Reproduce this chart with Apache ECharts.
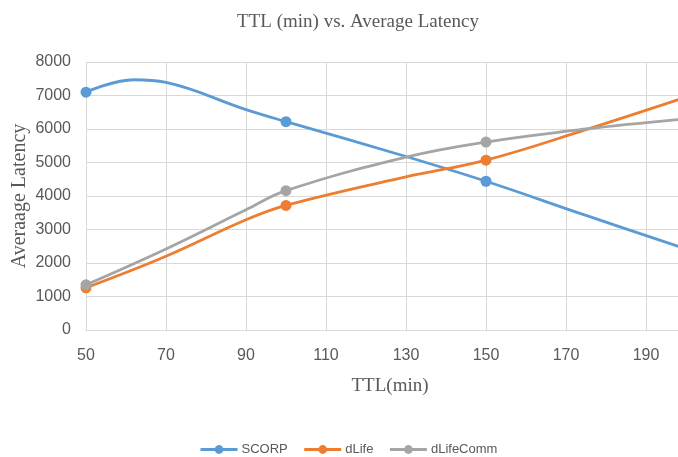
<!DOCTYPE html>
<html><head><meta charset="utf-8">
<script src="https://cdn.jsdelivr.net/npm/echarts@6/dist/echarts.min.js"></script>
<style>html,body{margin:0;padding:0;background:#fff}#c{width:678px;height:457px}</style>
</head><body><div id="c"></div>
<script>
// Marked data points (x = TTL in min)
const markedX = [50, 100, 150];
// Values; extra points (no marker)
const scorpPts = [[50,7100],[62,7470],[70,7390],[90,6580],[100,6220],[130,5180],[150,4440],[175,3420],[200,2420]];
const dlifePts = [[50,1260],[70,2200],[90,3290],[100,3720],[130,4570],[150,5070],[175,5980],[200,6950]];
const dlifeCommPts = [[50,1350],[70,2420],[90,3590],[100,4160],[130,5160],[150,5610],[175,6000],[200,6300]];
const seriesNames = ['SCORP','dLife','dLifeComm'];
const colors = ['#5B9BD5','#ED7D31','#A5A5A5'];

function toData(pts){
  return pts.map(p => markedX.includes(p[0]) ? {value:p} : {value:p, symbol:'none'});
}
const sans = '"Liberation Sans Narrow","Arial Narrow","Liberation Sans",sans-serif';
const serif = '"Liberation Serif","Times New Roman",serif';
const chart = echarts.init(document.getElementById('c'));
chart.setOption({
  animation:false,
  color: colors,
  title:{text:'TTL (min) vs. Average Latency', left:353, textAlign:'center', top:8,
    textStyle:{fontFamily:serif, fontSize:19, fontWeight:'normal', color:'#595959'}},
  grid:{left:86, right:0, top:62, bottom:127, containLabel:false, outerBoundsMode:'none'},
  xAxis:{type:'value', min:50, max:198, interval:20,
    name:'TTL(min)', nameLocation:'middle', nameGap:47, nameMoveOverlap:false,
    nameTextStyle:{fontFamily:serif, fontSize:19, color:'#595959', padding:[0,0,0,16]},
    axisLine:{show:true, lineStyle:{color:'#D9D9D9'}}, axisTick:{show:false},
    axisLabel:{fontFamily:sans, fontSize:16, color:'#595959', margin:18, showMaxLabel:false},
    splitLine:{show:true, lineStyle:{color:'#D9D9D9'}}},
  yAxis:{type:'value', min:0, max:8000, interval:1000,
    name:'Averaage Latency', nameLocation:'middle', nameGap:56, nameMoveOverlap:false,
    nameTextStyle:{fontFamily:serif, fontSize:20, color:'#595959'},
    axisLine:{show:false}, axisTick:{show:false},
    axisLabel:{fontFamily:sans, fontSize:16, color:'#595959', margin:15, formatter:v=>String(v)},
    splitLine:{show:true, lineStyle:{color:'#D9D9D9'}}},
  legend:{top:438, left:194, itemWidth:37, itemHeight:11, itemGap:15,
    lineStyle:{width:3},
    textStyle:{fontFamily:sans, fontSize:13, color:'#595959', padding:[0,0,0,-1]},
    data:seriesNames},
  series:[scorpPts, dlifePts, dlifeCommPts].map((pts,i)=>({
    name:seriesNames[i], type:'line', smooth:0.4, clip:true,
    symbol:'circle', symbolSize:11, showSymbol:true,
    lineStyle:{width:2.8, color:colors[i]}, itemStyle:{color:colors[i]},
    data: toData(pts)
  }))
});
</script></body></html>
